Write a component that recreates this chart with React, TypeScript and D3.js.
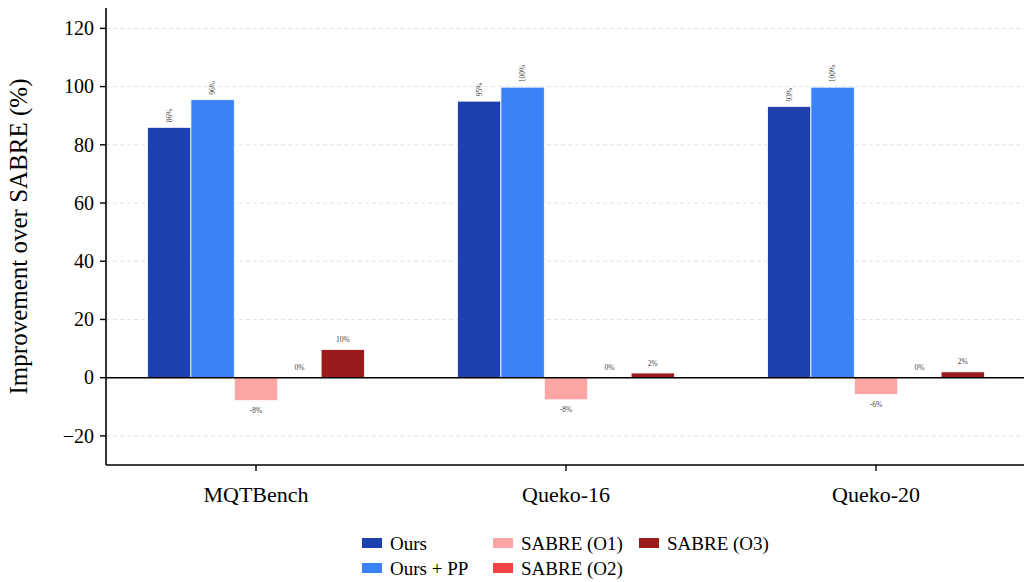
import React from 'react';
import * as d3 from 'd3';

// benchmark groups and methods
const categories = ['MQTBench', 'Queko-16', 'Queko-20'];
const seriesNames = ['Ours', 'Ours + PP', 'SABRE (O1)', 'SABRE (O2)', 'SABRE (O3)'];
const seriesColors = ['#1e40af', '#3b82f6', '#fca5a5', '#ef4444', '#991b1b'];

// improvement over SABRE (%) per benchmark, one array per method
const ours = [86.0, 95.0, 93.2];
const oursPP = [95.5, 99.8, 99.8];
const sabreO1 = [-7.9, -7.6, -5.8];
const sabreO2 = [0, 0, 0];
const sabreO3 = [9.7, 1.6, 2.0];

const yTicks = [-20, 0, 20, 40, 60, 80, 100, 120];

const W = 1024, H = 582;
const FONT = '"Liberation Serif", "Times New Roman", serif';

function App() {
  const series = [ours, oursPP, sabreO1, sabreO2, sabreO3];
  const margin = { left: 106, right: 0, top: 8, bottom: 117 };
  const plotBottom = H - margin.bottom;

  const x = d3.scaleLinear().domain([-0.4839, 2.4774]).range([margin.left, W - margin.right]);
  const y = d3.scaleLinear().domain([-30, 127]).range([plotBottom, margin.top]);
  const inner = d3.scaleBand().domain(seriesNames).range([-0.35, 0.35]).padding(0);
  const bw = x(inner.bandwidth()) - x(0);

  const fmtTick = d3.format('d');
  const label = (v: number) => `${Math.round(v)}%`;

  return (
    <svg width={W} height={H} style={{ position: 'absolute', left: 0, top: 0, background: '#fff' }}>
      {/* grid */}
      {yTicks.filter(t => t !== 0).map(t => (
        <line key={'g' + t} x1={margin.left} x2={W} y1={y(t)} y2={y(t)}
          stroke="#d9d9d9" strokeWidth={0.8} strokeDasharray="4,3" />
      ))}

      {/* bars */}
      {series.map((vals, si) => vals.map((v, ci) => {
        const bx = x(ci + (inner(seriesNames[si]) as number));
        const y0 = y(0), y1 = y(v);
        return (
          <rect key={`b${si}-${ci}`} x={bx} y={Math.min(y0, y1)} width={bw}
            height={Math.abs(y1 - y0)} fill={seriesColors[si]} stroke="#fff" strokeWidth={0.8} />
        );
      }))}

      {/* value labels */}
      {series.map((vals, si) => vals.map((v, ci) => {
        const cx = x(ci + (inner(seriesNames[si]) as number)) + bw / 2;
        if (si < 2) {
          const ty = y(v) - 5;
          return (
            <text key={`l${si}-${ci}`} transform={`translate(${cx},${ty}) rotate(-90)`}
              dy="0.32em" fontSize={7.5} fill="#444" fontFamily={FONT}>{label(v)}</text>
          );
        }
        const ty = v < 0 ? y(v) + 10 : y(v) - 10;
        return (
          <text key={`l${si}-${ci}`} x={cx} y={ty} dy="0.35em" textAnchor="middle"
            fontSize={7.5} fill="#444" fontFamily={FONT}>{label(v)}</text>
        );
      }))}

      {/* zero line */}
      <line x1={margin.left} x2={W} y1={y(0)} y2={y(0)} stroke="#000" strokeWidth={1.5} />

      {/* y axis */}
      <line x1={margin.left} x2={margin.left} y1={margin.top} y2={plotBottom} stroke="#000" strokeWidth={1.6} />
      {yTicks.map(t => (
        <g key={'yt' + t}>
          <line x1={margin.left - 6} x2={margin.left} y1={y(t)} y2={y(t)} stroke="#000" strokeWidth={1.4} />
          <text x={margin.left - 12} y={y(t)} dy="0.34em" textAnchor="end" fontSize={20}
            fontFamily={FONT} fill="#000">{fmtTick(t)}</text>
        </g>
      ))}
      <text transform={`translate(27,${(margin.top + plotBottom) / 2}) rotate(-90)`} textAnchor="middle"
        fontSize={25} fontFamily={FONT} fill="#000">Improvement over SABRE (%)</text>

      {/* x axis */}
      <line x1={margin.left} x2={W} y1={plotBottom} y2={plotBottom} stroke="#000" strokeWidth={1.6} />
      {categories.map((c, i) => (
        <g key={'xt' + c}>
          <line x1={x(i)} x2={x(i)} y1={plotBottom} y2={plotBottom + 6} stroke="#000" strokeWidth={1.4} />
          <text x={x(i)} y={plotBottom + 29} dy="0.35em" textAnchor="middle" fontSize={22}
            fontFamily={FONT} fill="#000">{c}</text>
        </g>
      ))}

      {/* legend, 3 columns filled column-wise */}
      {seriesNames.map((name, i) => {
        const colX = [362, 493, 639];
        const col = Math.floor(i / 2), row = i % 2;
        const lx = colX[col], ly = 543 + row * 25;
        return (
          <g key={'lg' + name}>
            <rect x={lx} y={ly - 5} width={20} height={10} fill={seriesColors[i]} />
            <text x={lx + 28} y={ly} dy="0.35em" fontSize={19} fontFamily={FONT} fill="#000">{name}</text>
          </g>
        );
      })}
    </svg>
  );
}

export default App;
